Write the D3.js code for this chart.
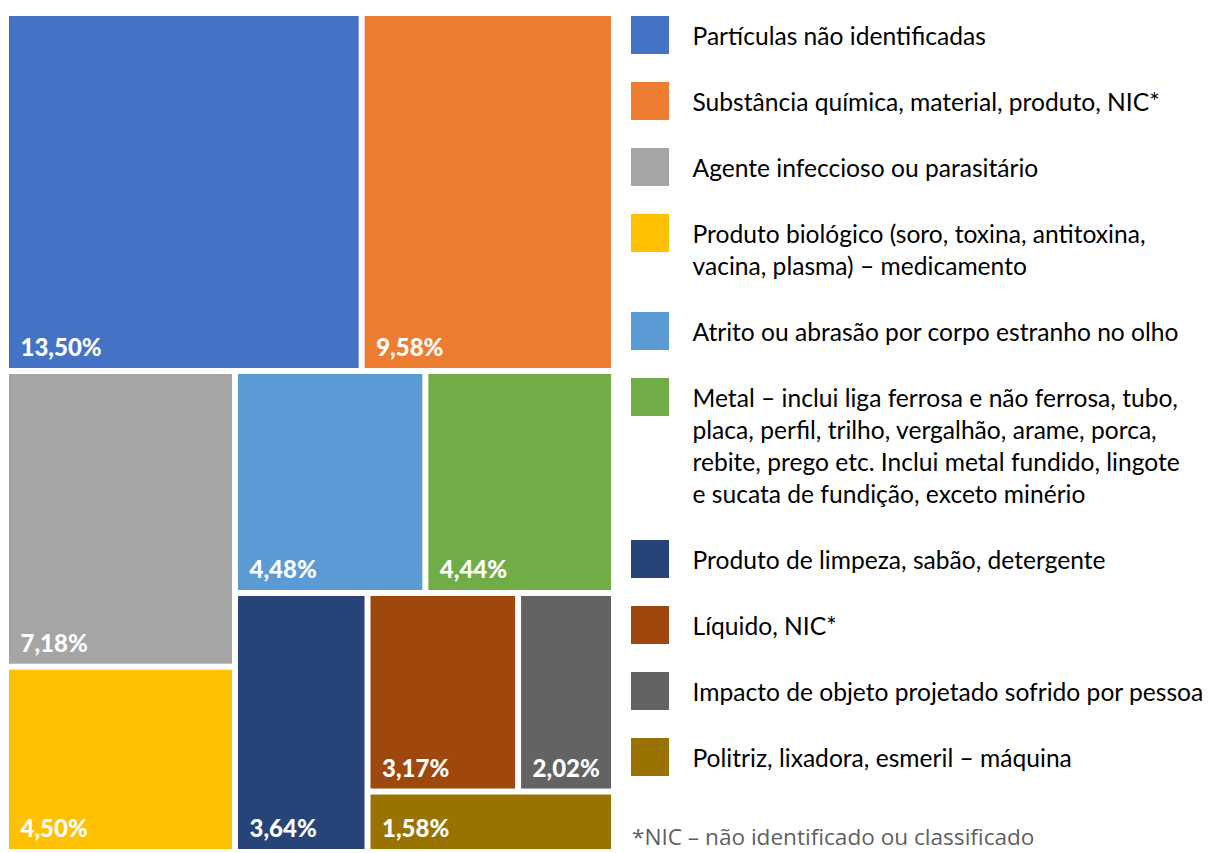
<!DOCTYPE html>
<html>
<head>
<meta charset="utf-8">
<script src="https://cdn.jsdelivr.net/npm/d3@7"></script>
<style>
  body { margin: 0; background: #fff; }
</style>
</head>
<body>
<div id="chart"></div>
<script>
// legend text, already broken into lines as in the original
const legendLines = [
    ["Partículas não identificadas"],
    ["Substância química, material, produto, NIC*"],
    ["Agente infeccioso ou parasitário"],
    ["Produto biológico (soro, toxina, antitoxina,", "vacina, plasma) – medicamento"],
    ["Atrito ou abrasão por corpo estranho no olho"],
    ["Metal – inclui liga ferrosa e não ferrosa, tubo,", "placa, perfil, trilho, vergalhão, arame, porca,", "rebite, prego etc. Inclui metal fundido, lingote", "e sucata de fundição, exceto minério"],
    ["Produto de limpeza, sabão, detergente"],
    ["Líquido, NIC*"],
    ["Impacto de objeto projetado sofrido por pessoa"],
    ["Politriz, lixadora, esmeril – máquina"]
];
const categories = legendLines.map((l) => l.join(" "));
const values = [13.50, 9.58, 7.18, 4.50, 4.48, 4.44, 3.64, 3.17, 2.02, 1.58];
const colors = ["#4472C4", "#ED7D31", "#A5A5A5", "#FFC000", "#5B9BD5", "#70AD47", "#264478", "#9E480E", "#636363", "#997300"];
const footnote = "*NIC – não identificado ou classificado";

const width = 1210, height = 853;
const margin = {top: 16, left: 9};
const mapW = 602, mapH = 833;

const ptBR = d3.formatLocale({decimal: ",", thousands: ".", grouping: [3], currency: ["R$", ""]});
const fmt = ptBR.format(".2f");

let svg = d3.select("#chart").append("svg")
    .attr("width", width)
    .attr("height", height);

// treemap
let root = d3.hierarchy({children: categories.map((c, i) => ({name: c, value: values[i], color: colors[i]}))})
    .sum((d) => d.value || 0)
    .sort((a, b) => b.value - a.value);

d3.treemap()
    .tile(d3.treemapSquarify.ratio(1.017))
    .size([mapW, mapH])
    .paddingInner(6)(root);

let map = svg.append("g")
    .attr("transform", "translate(" + margin.left + "," + margin.top + ")");

let cell = map.selectAll("g")
    .data(root.leaves())
    .enter()
    .append("g")
    .attr("transform", (d) => "translate(" + d.x0 + "," + d.y0 + ")");

cell.append("rect")
    .attr("width", (d) => d.x1 - d.x0)
    .attr("height", (d) => d.y1 - d.y0)
    .attr("fill", (d) => d.data.color);

cell.append("text")
    .attr("x", 11.5)
    .attr("y", (d) => d.y1 - d.y0 - 11.5)
    .attr("fill", "#fff")
    .style("font-family", "Lato, sans-serif")
    .style("font-weight", "900")
    .style("font-size", "24px")
    .text((d) => fmt(d.data.value) + "%");

// legend
let tops = [];
let t = 16;
legendLines.forEach((l) => { tops.push(t); t += 66 + 32 * (l.length - 1); });

let legend = svg.append("g");
let item = legend.selectAll("g")
    .data(categories)
    .enter()
    .append("g")
    .attr("transform", (d, i) => "translate(631," + tops[i] + ")");

item.append("rect")
    .attr("width", 38)
    .attr("height", 38)
    .attr("fill", (d, i) => colors[i]);

item.append("text")
    .style("font-family", "Lato, sans-serif")
    .style("font-size", "24.6px")
    .attr("fill", "#000")
    .selectAll("tspan")
    .data((d, i) => legendLines[i])
    .enter()
    .append("tspan")
    .attr("x", 61.5)
    .attr("y", (d, j) => 29 + j * 32)
    .text((d) => d);

// footnote
svg.append("text")
    .attr("x", 632)
    .attr("y", 845)
    .attr("fill", "#5f5f5f")
    .style("font-family", "'Open Sans', sans-serif")
    .style("font-size", "22.6px")
    .text(footnote);
</script>
</body>
</html>
